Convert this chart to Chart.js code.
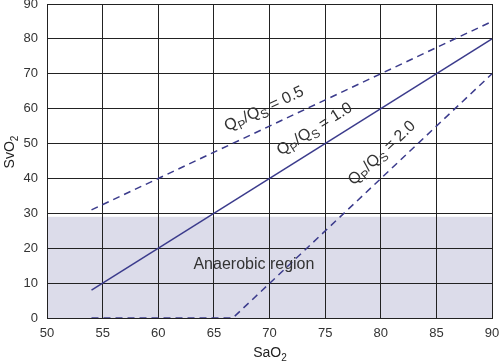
<!DOCTYPE html>
<html>
<head>
<meta charset="utf-8">
<script src="https://cdn.jsdelivr.net/npm/chart.js@4.4.0/dist/chart.umd.min.js"></script>
<style>
  html, body { margin: 0; padding: 0; background: #fff; }
  #wrap { width: 500px; height: 362px; }
</style>
</head>
<body>
<div id="wrap"><canvas id="chart" width="500" height="362"></canvas></div>
<script>
// SaO2 / SvO2 pairs for each Qp/Qs ratio
const ratio05X = [54, 90];
const ratio05Y = [31, 85];
const ratio10X = [54, 90];
const ratio10Y = [8, 80];
const ratio20X = [54, 66.7, 90];
const ratio20Y = [0, 0, 70];
const anaerobicTop = 29;

const xTicks = [50, 55, 60, 65, 70, 75, 80, 85, 90];
const yTicks = [0, 10, 20, 30, 40, 50, 60, 70, 80, 90];

const lineColor = '#3b3b8c';
const toPts = (xs, ys) => xs.map((x, i) => ({ x: x, y: ys[i] }));

// label spec: which line + where along it (x value) the text sits
const ratioLabels = [
  { xs: ratio05X, ys: ratio05Y, at: 70.2, val: '0.5' },
  { xs: ratio10X, ys: ratio10Y, at: 74.9, val: '1.0' },
  { xs: ratio20X.slice(1), ys: ratio20Y.slice(1), at: 81.2, val: '2.0' }
];

function drawParts(ctx, parts, cx, cy, angle, big, small, drop) {
  // parts: [text, isSub]
  const fnt = p => (p[1] ? small : big) + 'px Arial';
  let w = 0;
  parts.forEach(p => { ctx.font = fnt(p); w += ctx.measureText(p[0]).width; });
  ctx.save();
  ctx.translate(cx, cy);
  ctx.rotate(angle);
  ctx.textBaseline = 'alphabetic';
  ctx.textAlign = 'left';
  let x = -w / 2;
  const base = big * 0.36;
  parts.forEach(p => {
    ctx.font = fnt(p);
    ctx.fillText(p[0], x, p[1] ? base + drop : base);
    x += ctx.measureText(p[0]).width;
  });
  ctx.restore();
}

const decor = {
  id: 'decor',
  beforeDraw(chart) {
    const { ctx, chartArea, scales } = chart;
    const yTop = scales.y.getPixelForValue(anaerobicTop);
    ctx.save();
    ctx.fillStyle = '#dcdcea';
    ctx.fillRect(chartArea.left, yTop, chartArea.right - chartArea.left, chartArea.bottom - yTop);
    ctx.restore();
  },
  afterDatasetsDraw(chart) {
    const { ctx, scales } = chart;
    const xs = scales.x, ys = scales.y;
    ctx.save();
    ctx.fillStyle = '#333';
    ratioLabels.forEach(l => {
      const n = l.xs.length - 1;
      const x0 = xs.getPixelForValue(l.xs[0]), y0 = ys.getPixelForValue(l.ys[0]);
      const x1 = xs.getPixelForValue(l.xs[n]), y1 = ys.getPixelForValue(l.ys[n]);
      const ang = Math.atan2(y1 - y0, x1 - x0);
      const t = (l.at - l.xs[0]) / (l.xs[n] - l.xs[0]);
      const px = x0 + (x1 - x0) * t, py = y0 + (y1 - y0) * t;
      const off = 19;
      const cx = px + Math.sin(ang) * off, cy = py - Math.cos(ang) * off;
      drawParts(ctx, [['Q', 0], ['P', 1], ['/Q', 0], ['S', 1], [' = ' + l.val, 0]], cx, cy, ang, 16, 12, 4);
    });
    // region label
    ctx.font = '16px Arial';
    ctx.textAlign = 'center';
    ctx.textBaseline = 'middle';
    ctx.fillText('Anaerobic region', xs.getPixelForValue(68.6), ys.getPixelForValue(15.2));
    // axis titles with subscripts
    ctx.fillStyle = '#222';
    drawParts(ctx, [['SaO', 0], ['2', 1]], 270, 352, 0, 14, 10, 4);
    drawParts(ctx, [['SvO', 0], ['2', 1]], 9, 152, -Math.PI / 2, 14, 10, 4);
    ctx.restore();
  }
};

new Chart(document.getElementById('chart'), {
  type: 'scatter',
  data: {
    datasets: [
      { data: toPts(ratio05X, ratio05Y), showLine: true, borderColor: lineColor, borderWidth: 1.5, borderDash: [7, 5], pointRadius: 0 },
      { data: toPts(ratio10X, ratio10Y), showLine: true, borderColor: lineColor, borderWidth: 1.5, pointRadius: 0 },
      { data: toPts(ratio20X, ratio20Y), showLine: true, borderColor: lineColor, borderWidth: 1.5, borderDash: [7, 5], pointRadius: 0 }
    ]
  },
  plugins: [decor],
  options: {
    responsive: false,
    animation: false,
    layout: { padding: { top: 4, right: 8, left: 0, bottom: 0 } },
    plugins: { legend: { display: false }, tooltip: { enabled: false } },
    scales: {
      x: {
        type: 'linear', min: 50, max: 90,
        afterBuildTicks: s => { s.ticks = xTicks.map(v => ({ value: v })); },
        afterFit: s => { s.height = 44; s.paddingLeft = 0; s.paddingRight = 0; },
        grid: { color: '#222', lineWidth: 1, drawTicks: false },
        border: { color: '#222', width: 1 },
        ticks: { color: '#333', font: { family: 'Arial', size: 13 }, padding: 8, maxRotation: 0 }
      },
      y: {
        type: 'linear', min: 0, max: 90,
        afterBuildTicks: s => { s.ticks = yTicks.map(v => ({ value: v })); },
        afterFit: s => { s.width = 47; s.paddingTop = 0; s.paddingBottom = 0; },
        grid: { color: '#222', lineWidth: 1, drawTicks: false },
        border: { color: '#222', width: 1 },
        ticks: { color: '#333', font: { family: 'Arial', size: 13 }, padding: 9 }
      }
    }
  }
});
</script>
</body>
</html>
